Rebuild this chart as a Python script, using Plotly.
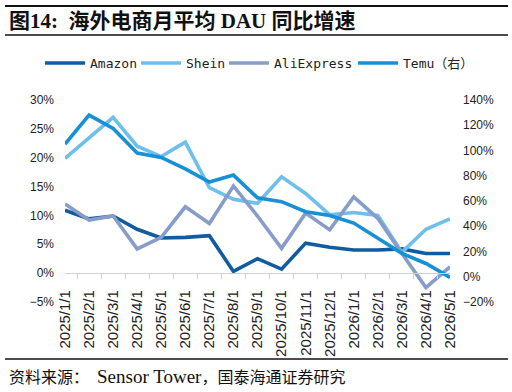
import plotly.graph_objects as go

months = ["2025/1/1", "2025/2/1", "2025/3/1", "2025/4/1", "2025/5/1", "2025/6/1",
          "2025/7/1", "2025/8/1", "2025/9/1", "2025/10/1", "2025/11/1", "2025/12/1",
          "2026/1/1", "2026/2/1", "2026/3/1", "2026/4/1", "2026/5/1"]
amazon = [10.9, 9.4, 9.9, 7.6, 6.1, 6.2, 6.5, 0.3, 2.5, 0.7, 5.2, 4.5, 4.0, 4.0, 4.2, 3.4, 3.4]
shein = [19.9, 23.5, 27.0, 22.0, 20.2, 22.7, 14.8, 12.8, 12.1, 16.7, 13.8, 10.1, 10.5, 10.0, 3.6, 7.6, 9.4]
aliexpress = [12.0, 9.2, 9.9, 4.2, 6.2, 11.5, 8.6, 15.1, 9.9, 4.3, 10.4, 7.5, 13.2, 9.5, 3.4, -2.5, 1.1]
temu = [105, 128, 117.5, 98, 94.5, 85.5, 75, 80.5, 62.5, 59.5, 51.5, 48.5, 42.5, 30.5, 18.5, 10.5, -0.5]

names = ["Amazon", "Shein", "AliExpress", "Temu（右）"]
colors = ["#115BA0", "#6EBFEB", "#879CC8", "#1790D6"]
legend_text_x = [90, 186, 274, 403]

W, H = 512, 392
ML, MR, MT, MB = 65, 62, 100, 90
PW, PH = W - ML - MR, H - MT - MB
ITEMW = 40


def px(x):
    return (x - ML) / PW


def py(y):
    return (H - MB - y) / PH


fig = go.Figure()
series = [amazon, shein, aliexpress, temu]
axes = ["y", "y", "y", "y2"]
legend_font = dict(family="DejaVu Sans Mono, Noto Sans CJK SC", size=13, color="#222222")
for i in range(4):
    lg = "legend" if i == 0 else "legend%d" % (i + 1)
    fig.add_trace(go.Scatter(x=months, y=series[i], name=names[i], mode="lines",
                             line=dict(color=colors[i], width=3.6), yaxis=axes[i],
                             legend=lg))
    fig.update_layout({lg: dict(orientation="h", x=px(legend_text_x[i] - ITEMW - 10), y=py(63),
                                xanchor="left", yanchor="middle", font=legend_font,
                                itemwidth=ITEMW, bgcolor="rgba(0,0,0,0)")})

tickfont = dict(family="Liberation Sans, Arial", size=12, color="#222222")

fig.update_layout(
    width=W, height=H,
    margin=dict(l=ML, r=MR, t=MT, b=MB),
    paper_bgcolor="white", plot_bgcolor="white",
    showlegend=True,
    xaxis=dict(type="category", anchor="free", position=1 / 7,
               showline=True, linecolor="#d0d0d0", linewidth=1,
               ticks="outside", ticklen=5, tickcolor="#d0d0d0", tickson="boundaries",
               tickangle=-90, ticklabelstandoff=10,
               tickfont=dict(family="Liberation Sans, Arial", size=15, color="#222222"),
               showgrid=False, zeroline=False),
    yaxis=dict(range=[-5, 30], dtick=5, ticksuffix="%", showgrid=False, zeroline=False,
               showline=False, ticks="", tickfont=tickfont, ticklabelstandoff=10),
    yaxis2=dict(range=[-20, 140], dtick=20, ticksuffix="%", overlaying="y", side="right",
                showgrid=False, zeroline=False, showline=False, ticks="",
                tickfont=tickfont, ticklabelstandoff=12),
)

# header / footer rules
for y0, w in [(6, 2), (35, 1.6), (359, 1.6)]:
    fig.add_shape(type="line", xref="paper", yref="paper",
                  x0=px(5), x1=px(508), y0=py(y0), y1=py(y0),
                  line=dict(color="#111111", width=w))

fig.add_annotation(text="<b>图14:  海外电商月平均 DAU 同比增速</b>", xref="paper", yref="paper",
                   x=px(7), y=py(21), xanchor="left", yanchor="middle", showarrow=False,
                   font=dict(family="Liberation Serif, Noto Sans CJK SC", size=21, color="#111111"))
fig.add_annotation(text="资料来源：  <span style=\"font-size:19px\">Sensor Tower</span>，国泰海通证券研究",
                   xref="paper", yref="paper",
                   x=px(7), y=py(376), xanchor="left", yanchor="middle", showarrow=False,
                   font=dict(family="Liberation Serif, Noto Sans CJK SC", size=16, color="#111111"))

fig.write_html("out.html")
